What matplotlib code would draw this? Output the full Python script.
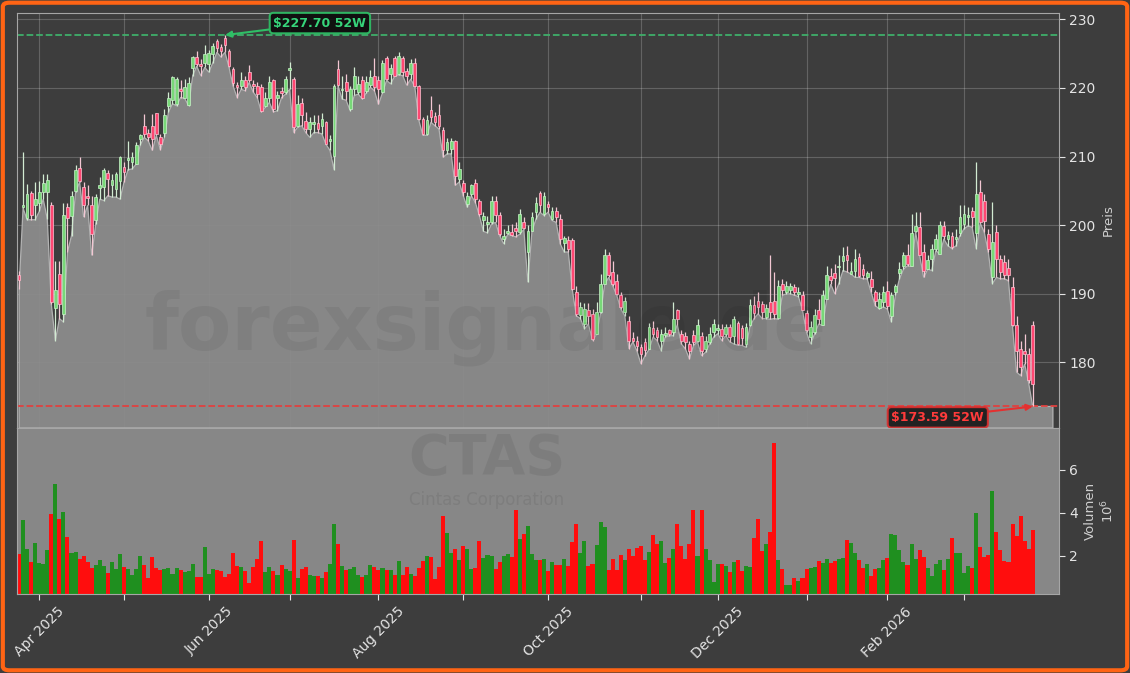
import numpy as np
import pandas as pd
import matplotlib
matplotlib.use("Agg")
import matplotlib.pyplot as plt
from matplotlib.patches import FancyBboxPatch

# ---------------- data ----------------
opens = [192.8,202.7,201.0,204.7,202.9,203.3,204.8,204.8,202.9,188.0,192.9,187.0,202.6,201.4,205.0,208.3,205.5,204.3,202.9,200.7,
205.4,205.5,207.6,205.9,205.3,206.5,208.5,209.5,209.2,208.9,212.5,214.5,213.4,214.5,216.3,212.8,213.5,217.4,218.2,217.7,
219.9,218.6,217.5,222.9,224.5,223.5,223.7,223.5,225.0,226.8,225.9,227.3,225.4,222.7,220.4,220.3,221.1,222.3,220.6,220.3,
220.2,217.4,218.6,221.2,218.5,219.5,219.4,222.6,221.3,214.5,217.8,215.2,214.0,214.8,214.9,214.5,215.0,212.2,210.1,222.7,
219.7,220.8,216.9,219.9,219.4,221.1,219.6,220.4,221.8,221.2,219.4,224.3,222.0,224.4,222.0,224.4,222.4,222.0,223.6,220.3,
215.5,213.3,216.8,215.9,216.1,213.9,210.9,211.1,212.3,206.7,206.2,203.1,204.6,206.2,203.5,200.8,200.2,200.4,203.6,201.5,
198.0,198.9,199.0,199.6,199.0,200.5,196.1,199.2,201.9,204.7,201.7,203.1,200.9,202.1,200.9,197.4,197.8,197.9,190.2,186.9,
185.6,187.6,187.1,184.2,187.3,191.5,195.7,193.2,191.8,189.8,187.3,186.1,183.5,183.2,182.2,183.0,182.0,185.0,184.7,183.2,
184.0,184.7,184.5,187.6,184.2,183.9,182.7,184.0,183.2,183.9,182.0,183.0,184.4,184.8,184.9,184.2,185.1,183.9,185.7,185.0,
182.7,185.4,188.4,189.0,188.5,186.6,188.8,189.0,186.5,191.5,190.3,190.6,191.0,190.0,189.9,187.2,183.7,184.4,187.6,185.5,
189.3,192.6,193.1,193.9,194.8,195.7,192.9,193.3,195.4,193.6,192.4,192.2,190.2,188.0,188.8,190.4,186.8,190.2,193.1,194.1,
195.7,194.0,199.1,199.7,196.1,193.6,195.1,196.6,195.8,199.9,198.0,198.4,198.0,198.9,200.2,201.2,202.0,198.8,204.9,203.5,
198.7,192.5,199.0,195.1,194.6,193.7,191.0,185.5,181.9,181.7,181.3,185.5]

highs = [193.4,210.7,206.0,205.0,206.3,206.4,207.5,207.5,203.4,194.8,194.8,203.3,203.3,205.0,208.7,210.0,206.3,205.8,204.3,204.6,
207.0,208.4,208.0,207.5,207.7,210.1,209.2,212.2,210.6,212.1,213.3,216.2,214.0,216.2,216.4,213.3,217.0,219.4,221.8,221.6,
221.1,221.3,221.6,224.7,225.4,224.2,226.2,225.6,226.6,227.1,226.4,227.7,225.7,223.0,220.8,222.3,221.8,223.3,221.1,220.8,
220.6,219.4,221.8,221.3,219.6,220.1,221.8,223.8,221.6,218.9,218.6,216.5,215.7,216.1,216.0,216.4,215.2,213.1,220.6,224.1,
221.8,222.0,220.3,223.0,221.8,221.8,221.8,222.6,224.4,221.8,224.0,224.6,223.5,224.7,225.2,224.7,222.9,224.2,224.4,220.5,
215.7,216.0,218.8,216.5,217.7,214.3,212.7,212.7,212.4,209.2,206.6,204.8,206.0,206.8,203.8,201.9,201.4,204.2,204.2,201.9,
199.5,200.0,200.2,200.4,202.4,201.2,200.0,201.9,204.1,205.0,204.8,203.6,202.6,202.6,201.7,198.5,198.5,198.1,191.2,188.8,
188.6,188.6,187.8,188.8,192.9,196.6,196.1,194.8,192.9,190.2,189.5,186.8,184.4,183.9,182.7,183.5,185.7,186.0,185.1,184.9,
185.1,184.9,188.8,187.8,184.7,184.4,183.2,184.7,186.4,184.4,183.9,185.1,186.4,185.6,185.6,185.6,185.6,186.8,186.1,185.4,
185.8,189.2,189.7,190.2,189.0,188.5,195.7,193.2,192.0,192.2,191.8,191.6,191.5,191.0,190.4,187.6,186.1,187.8,189.2,190.5,
194.1,193.8,194.4,195.6,196.8,197.0,194.6,196.6,196.0,194.4,193.4,193.3,190.5,190.2,191.2,191.9,190.2,191.5,194.6,196.1,
197.3,201.6,201.9,201.9,197.3,195.6,197.3,198.7,200.6,200.6,199.2,199.0,199.5,202.9,202.9,202.6,202.6,209.2,206.6,204.5,
199.5,203.4,200.0,195.6,195.6,195.1,192.4,186.8,183.2,184.2,182.1,186.1]

lows = [190.7,202.5,200.8,200.8,200.8,202.0,203.8,200.9,188.5,183.2,186.4,185.9,196.1,198.5,204.8,206.3,201.2,202.9,195.6,200.2,
203.8,203.6,204.3,204.1,204.1,203.8,206.3,208.1,208.2,208.9,211.7,212.8,212.3,210.9,213.1,211.0,212.8,216.5,217.7,217.4,
218.6,218.5,217.4,221.8,223.2,221.8,223.0,222.3,223.7,225.2,224.5,225.2,223.0,220.3,218.6,219.8,219.6,220.8,219.4,218.6,
216.5,217.2,217.9,216.5,216.7,218.6,219.1,219.8,213.5,214.3,214.5,213.5,212.8,213.5,213.5,213.3,211.8,210.9,208.1,220.3,
218.4,218.2,216.7,218.9,219.1,218.4,219.3,220.1,219.6,217.6,219.3,221.1,220.6,221.7,221.9,221.8,220.4,221.3,220.2,215.3,
213.1,213.1,215.0,214.5,214.0,209.9,210.4,210.4,205.8,206.3,204.3,202.6,204.3,203.3,201.4,199.1,198.9,200.2,200.4,198.5,
197.3,198.7,198.5,198.3,198.7,199.4,191.7,199.1,200.9,201.9,201.4,201.9,200.7,200.4,197.3,196.1,196.1,190.6,186.8,186.4,
184.9,185.6,183.2,184.1,187.2,191.4,192.4,191.2,189.8,187.8,186.8,182.0,183.0,181.7,179.8,181.0,181.9,183.7,183.2,181.7,
183.7,183.9,183.9,185.5,182.7,182.0,180.5,182.5,183.0,181.0,181.5,182.7,183.7,184.2,183.2,183.9,183.0,182.7,182.5,182.5,
182.2,185.3,186.4,187.1,186.4,186.4,186.3,186.4,186.3,189.8,190.0,190.0,189.8,189.6,187.6,184.4,182.7,184.2,185.6,185.4,
189.3,191.4,190.0,191.5,193.4,193.2,192.9,192.4,192.4,192.2,192.2,190.2,188.3,187.8,188.1,187.8,185.9,189.8,192.2,193.6,
194.1,194.0,199.0,195.6,192.4,193.6,193.4,196.3,195.8,198.0,197.0,196.6,197.0,198.5,199.5,199.9,199.7,196.6,200.3,199.0,
196.1,191.5,192.4,192.2,192.2,191.9,185.3,178.6,178.1,179.8,177.0,173.59]

closes = [192.0,203.0,204.6,201.5,203.8,204.8,206.1,206.6,188.8,190.5,188.5,201.5,201.0,204.3,208.0,206.5,202.9,204.0,198.7,204.1,
205.9,208.0,206.7,206.6,207.5,210.0,207.7,209.8,210.0,211.7,213.1,213.3,212.8,212.6,213.3,211.8,216.0,218.6,221.6,221.3,
219.6,220.1,220.7,224.5,223.5,223.2,225.0,225.1,226.1,225.8,225.4,226.2,223.2,220.7,220.1,221.1,220.1,221.1,220.3,219.1,
216.7,218.6,220.8,216.9,219.0,219.2,221.3,222.9,214.3,217.7,216.0,214.0,215.1,215.0,214.0,215.5,211.8,212.6,220.3,220.4,
219.9,219.6,219.9,221.8,220.6,218.6,220.8,221.6,220.1,219.9,223.6,221.3,222.9,221.8,224.7,222.3,221.8,223.6,220.3,215.5,
213.3,215.3,215.7,215.0,214.5,210.9,212.1,212.3,207.2,208.2,204.8,204.3,205.8,203.8,201.7,201.3,200.5,203.6,201.5,198.7,
198.5,199.1,198.6,199.2,201.6,199.6,199.2,201.2,203.3,203.0,204.3,202.6,202.0,201.2,198.0,198.1,196.5,190.7,187.1,188.1,
187.8,186.8,183.4,187.3,191.5,195.6,192.7,191.5,190.0,188.1,189.0,183.2,183.2,182.4,181.3,181.8,185.1,184.1,183.7,184.2,
184.3,184.1,186.3,186.4,183.2,183.0,181.7,183.0,185.5,181.7,183.2,184.2,185.6,185.0,183.8,185.1,183.7,186.3,182.7,183.5,
185.1,188.4,187.2,188.1,187.3,187.9,187.4,187.0,191.2,190.5,191.2,191.1,190.3,190.3,187.6,184.7,185.1,186.9,186.4,189.9,
192.8,192.0,192.3,194.1,195.5,194.9,193.4,195.1,192.6,192.7,193.1,191.0,189.0,189.2,190.2,188.3,189.8,191.1,193.6,195.6,
194.4,198.9,199.9,195.7,193.4,194.9,196.5,198.0,200.0,198.4,198.6,196.8,198.3,201.2,201.7,201.5,201.2,204.6,200.4,200.6,
196.6,197.5,195.1,193.2,192.7,192.7,185.4,181.7,179.3,181.3,177.5,176.9]

# volume in millions of shares
volumes = [2.09,3.67,2.33,1.72,2.59,1.66,1.63,2.28,3.95,5.35,3.72,4.05,2.88,2.12,2.19,1.85,2.00,1.72,1.44,1.58,
1.81,1.53,1.22,1.72,1.41,2.09,1.49,1.40,1.12,1.41,2.00,1.58,0.98,1.95,1.44,1.35,1.40,1.44,1.16,1.44,
1.35,1.26,1.30,1.63,1.02,1.02,2.42,1.16,1.40,1.35,1.30,1.02,1.16,2.14,1.53,1.49,1.30,0.74,1.49,1.86,
2.70,1.26,1.49,1.30,1.12,1.58,1.40,1.30,2.74,0.98,1.40,1.49,1.12,1.07,1.07,0.98,1.26,1.63,3.49,2.56,
1.53,1.35,1.40,1.49,1.12,1.01,1.12,1.58,1.49,1.35,1.44,1.35,1.35,1.12,1.77,1.12,1.49,1.16,1.07,1.44,
1.77,2.00,1.95,0.93,1.49,3.86,3.07,2.14,2.33,1.81,2.47,2.33,1.40,1.44,2.70,1.91,2.05,2.00,1.40,1.72,
2.00,2.09,1.95,4.14,2.79,3.02,3.40,2.09,1.81,1.81,1.86,1.30,1.72,1.58,1.58,1.86,1.53,2.65,3.49,2.14,
2.70,1.53,1.63,2.51,3.58,3.35,1.35,1.86,1.35,2.05,1.81,2.33,2.00,2.37,2.47,1.81,2.19,2.98,2.56,2.70,
1.67,1.91,2.33,3.49,2.47,1.86,2.56,4.14,2.00,4.14,2.33,1.81,0.79,1.63,1.63,1.53,1.26,1.72,1.81,1.32,
1.53,1.49,2.84,3.72,2.23,2.56,3.12,7.26,1.81,1.40,0.65,0.65,0.98,0.84,0.98,1.40,1.44,1.49,1.77,1.67,
1.86,1.67,1.77,1.86,1.90,2.74,2.60,2.14,1.81,1.44,1.63,1.07,1.40,1.44,1.81,1.91,3.02,2.98,2.28,1.72,
1.58,2.56,1.86,2.28,1.95,1.44,1.07,1.63,1.81,1.35,1.86,2.84,2.14,2.14,1.21,1.53,1.44,4.00,2.42,1.95,
2.05,5.02,3.12,2.28,1.77,1.72,3.49,2.93,3.86,2.70,2.33,3.21]

high_52w = 227.70
low_52w = 173.59
ticker = "CTAS"
company = "Cintas Corporation"
holidays = ["2025-04-18", "2025-05-26", "2025-06-19", "2025-07-04", "2025-09-01",
            "2025-11-27", "2025-12-25", "2026-01-01", "2026-01-19", "2026-02-16"]

# ---------------- preparation ----------------
n = len(closes)
dates = pd.bdate_range("2025-03-25", "2026-03-31")
dates = dates[~dates.isin(pd.to_datetime(holidays))][:n]
x = np.arange(n)
o = np.array(opens); h = np.array(highs); l = np.array(lows); c = np.array(closes)
v = np.array(volumes)
up = c >= o

BG = "#3d3d3d"
fig = plt.figure(figsize=(11.3, 6.73), dpi=100, facecolor=BG)
ax = fig.add_axes([0.01504, 0.3640, 0.9221, 0.6170])
axv = fig.add_axes([0.01504, 0.1174, 0.9221, 0.2466], sharex=ax)
ax.set_facecolor(BG)
axv.set_facecolor("#878787")

ymin, ymax = 170.45, 230.95
x_end = n + 4  # area extends a little past the last candle

# area of the lows
xf = np.concatenate([[0], x, [x_end], [x_end]])
lf = np.concatenate([[ymin], l, [l[-1]], [ymin]])
ax.fill(xf, lf, facecolor="#8c8c8c", alpha=0.94, edgecolor="#b8b8b8",
        linewidth=0.9, zorder=1)

# candles
wick_cols = np.where(up, "#d2ebd2", "#f3c7d3")
ax.vlines(x, l, h, colors=wick_cols, linewidth=0.9, zorder=3)
body_h = np.maximum(np.abs(c - o), 0.15)
body_b = np.minimum(o, c)
ax.bar(x, body_h, bottom=body_b, width=0.68,
       color=np.where(up, "#78d878", "#ff4772"),
       edgecolor=np.where(up, "#c9f3c9", "#ffc4d2"),
       linewidth=0.5, zorder=4)

# 52 week lines
ax.axhline(high_52w, color="#3fae6a", linestyle="--", linewidth=1.3, zorder=2)
ax.axhline(low_52w, color="#e0413f", linestyle="--", linewidth=1.3, zorder=2)

i_hi = int(np.argmax(h))
ax.annotate(f"${high_52w:.2f} 52W", xy=(i_hi, high_52w), xytext=(i_hi + 23.5, 229.45),
            ha="center", va="center", fontsize=9, fontweight="bold", color="#36d47a",
            bbox=dict(boxstyle="round,pad=0.3", fc="#0c0c0c", ec="#2fbf66", lw=1.5, alpha=0.92),
            arrowprops=dict(arrowstyle="-|>", color="#2fbf66", lw=1.5, shrinkA=0, shrinkB=0),
            zorder=6)
ax.annotate(f"${low_52w:.2f} 52W", xy=(n - 1, low_52w), xytext=(n - 24.5, 172.0),
            ha="center", va="center", fontsize=9, fontweight="bold", color="#ff3b3b",
            bbox=dict(boxstyle="round,pad=0.3", fc="#1a1a1a", ec="#d92f2f", lw=1.5, alpha=0.92),
            arrowprops=dict(arrowstyle="-|>", color="#e53030", lw=1.5, shrinkA=0, shrinkB=0),
            zorder=6)

# volume bars
axv.bar(x, v, width=1.0, color=np.where(up, "#1f8f1f", "#ff0d0d"), linewidth=0, zorder=2)

# axes limits
ax.set_xlim(-0.5, n + 5.5)
ax.set_ylim(ymin, ymax)
axv.set_ylim(0.23, 7.95)

# month ticks
months = pd.Series(dates.to_period("M"))
first_idx = [i for i in range(1, n) if months[i] != months[i - 1]]
labels = [dates[i].strftime("%b %Y") if dates[i].month % 2 == 0 else "" for i in first_idx]
axv.set_xticks(first_idx)
axv.set_xticklabels(labels, rotation=45, ha="center")

# styling
TXT = "#e4e4e4"
ax.grid(True, color="white", alpha=0.2, linewidth=0.8)
ax.set_axisbelow(True)
ax.set_yticks([180, 190, 200, 210, 220, 230])
ax.yaxis.tick_right()
ax.yaxis.set_label_position("right")
ax.tick_params(axis="y", colors=TXT, labelsize=10, length=4)
ax.tick_params(axis="x", labelbottom=False, length=0)
ax.set_ylabel("Preis", color="#cfcfcf", fontsize=9.5)

axv.set_yticks([2, 4, 6])
axv.yaxis.tick_right()
axv.yaxis.set_label_position("right")
axv.tick_params(axis="y", colors=TXT, labelsize=10, length=4)
axv.tick_params(axis="x", colors=TXT, labelsize=10, length=4)
axv.set_ylabel("Volumen\n$10^{6}$", color="#cfcfcf", fontsize=9.5)

for a in (ax, axv):
    for s in a.spines.values():
        s.set_color("#a6a6a6")
        s.set_linewidth(0.8)

# watermarks
fig.text(0.430, 0.480, "forexsignale.de", fontsize=56, fontweight="bold",
         color="black", alpha=0.06, ha="center", va="baseline")
fig.text(0.431, 0.295, ticker, fontsize=40, fontweight="bold",
         color="black", alpha=0.07, ha="center", va="baseline")
fig.text(0.431, 0.249, company, fontsize=12,
         color="black", alpha=0.07, ha="center", va="baseline")

# orange frame
fig.patches.append(FancyBboxPatch((0.0025, 0.004), 0.995, 0.992,
                                  boxstyle="round,pad=0,rounding_size=0.006",
                                  transform=fig.transFigure, fill=False,
                                  edgecolor="#ff6414", linewidth=3.0))

fig.savefig("out.png", dpi=100, facecolor=BG)
